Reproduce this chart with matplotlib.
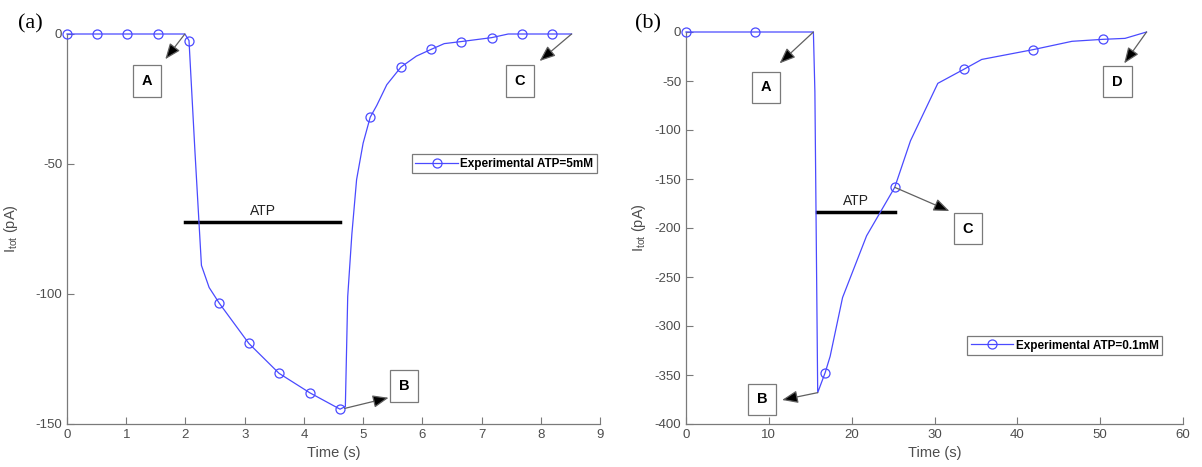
import matplotlib
matplotlib.use('Agg')
import matplotlib.pyplot as plt
from matplotlib.lines import Line2D
import numpy as np

# panel (a): ATP = 5 mM
t_a = [0, 0.51, 1.02, 1.54, 1.99, 2.06, 2.16, 2.27, 2.40, 2.57, 3.07, 3.58, 4.10, 4.61,
       4.70, 4.74, 4.81, 4.89, 5.00, 5.12, 5.23, 5.40, 5.64, 5.90, 6.15, 6.37, 6.66,
       7.17, 7.45, 7.68, 8.19, 8.52]
i_a = [0, 0, 0, 0, 0, -2.5, -45, -89, -97.5, -103.5, -119, -130.5, -138, -144.3,
       -143.3, -101, -77, -56, -42, -32, -27.5, -19.5, -12.7, -8.5, -5.9, -3.7, -2.9,
       -1.4, 0, 0, 0, 0]
marker_t_a = [0, 0.51, 1.02, 1.54, 2.06, 2.57, 3.07, 3.58, 4.10, 4.61, 5.12, 5.64,
              6.15, 6.66, 7.17, 7.68, 8.19]

# panel (b): ATP = 0.1 mM
t_b = [0, 8.39, 15.38, 15.56, 15.9, 16.8, 17.4, 18.9, 21.8, 25.2, 27.1, 30.4, 33.6,
       35.7, 41.9, 46.6, 50.3, 53.0, 55.6]
i_b = [0, 0, 0, -61, -368, -347.6, -331, -271, -208, -158.5, -111, -52.4, -37.8,
       -28, -18, -9.5, -7.5, -6.5, 0]
marker_t_b = [0, 8.39, 16.8, 25.2, 33.6, 41.9, 50.3]

# annotations: label, box position, arrow start, arrow tip
notes_a = [('A', (1.35, -18), (1.99, 0), (1.66, -9.7)),
           ('B', (5.69, -135.4), (4.69, -144), (5.43, -139.9)),
           ('C', (7.65, -18), (8.52, 0), (7.98, -10.4))]
notes_b = [('A', (9.7, -56.4), (15.38, 0), (11.3, -32)),
           ('B', (9.2, -374.8), (15.9, -368), (11.6, -375.5)),
           ('C', (34.0, -200.7), (25.2, -158.5), (31.8, -182.7)),
           ('D', (52.1, -50.7), (55.6, 0), (52.9, -32))]
atp_a = (2.0, 4.61, -72.4)
atp_b = (15.8, 25.2, -184)

plt.rcParams.update({
    'font.family': 'Liberation Sans',
    'mathtext.default': 'regular',
    'axes.unicode_minus': False,
    'font.size': 9,
})

BLUE = '#4a4aff'
AX_GRAY = '#7a7a7a'
TXT_GRAY = '#4d4d4d'

fig = plt.figure(figsize=(12.02, 4.67), dpi=100)
ax_a = fig.add_axes([67 / 1202, 43 / 467, 533 / 1202, 390 / 467])
ax_b = fig.add_axes([686 / 1202, 43 / 467, 497 / 1202, 392 / 467])


def draw(ax, t, cur, marker_t, notes, atp, legend_label, xlim, ylim, xticks, yticks,
         legend_anchor, ylab_x):
    ax.plot(t, cur, color=BLUE, lw=0.9, clip_on=False, zorder=3)
    idx = [t.index(v) for v in marker_t]
    ax.plot(np.array(t)[idx], np.array(cur)[idx], ls='none', marker='o', ms=6.5,
            mfc='none', mec=BLUE, mew=0.9, clip_on=False, zorder=4)

    ax.plot([atp[0], atp[1]], [atp[2], atp[2]], color='black', lw=2.5, zorder=2)
    ax.text((atp[0] + atp[1]) / 2, atp[2] + 1.5 * (ylim[1] - ylim[0]) / 150, 'ATP',
            ha='center', va='bottom', fontsize=10, color='#222222')

    for lab, box, start, tip in notes:
        ax.annotate('', xy=tip, xytext=start,
                    arrowprops=dict(arrowstyle='-|>,head_length=0.8,head_width=0.32',
                                    ec='#606060', fc='black', lw=0.9,
                                    mutation_scale=12, shrinkA=0, shrinkB=0), zorder=5)
        ax.text(box[0], box[1], lab, ha='center', va='center', fontsize=10.5,
                fontweight='bold', color='black',
                bbox=dict(boxstyle='square,pad=0.6', fc='white', ec=AX_GRAY, lw=0.9))

    ax.set_xlim(*xlim)
    ax.set_ylim(*ylim)
    ax.set_xticks(xticks)
    ax.set_yticks(yticks)
    for s in ['top', 'right']:
        ax.spines[s].set_visible(False)
    for s in ['left', 'bottom']:
        ax.spines[s].set_color(AX_GRAY)
        ax.spines[s].set_linewidth(0.9)
    ax.tick_params(direction='in', length=5, width=0.8, color=AX_GRAY,
                   labelcolor=TXT_GRAY, labelsize=9.5)
    ax.set_xlabel('Time (s)', fontsize=10.5, color=TXT_GRAY, labelpad=4)
    ax.set_ylabel('I$_{tot}$ (pA)', fontsize=10.5, color=TXT_GRAY)
    ax.yaxis.set_label_coords(ylab_x, 0.5)

    handle = Line2D([], [], color=BLUE, lw=0.9, marker='o', ms=6.5, mfc='none',
                    mec=BLUE, mew=0.9)
    leg = ax.legend([handle], [legend_label], loc='upper right',
                    bbox_to_anchor=legend_anchor, frameon=True, fancybox=False,
                    prop={'weight': 'bold', 'size': 8.5}, handlelength=3.6,
                    handletextpad=0.2, borderpad=0.3, borderaxespad=0,
                    framealpha=1, numpoints=1)
    leg.get_frame().set_edgecolor(AX_GRAY)
    leg.get_frame().set_linewidth(0.9)


draw(ax_a, t_a, i_a, marker_t_a, notes_a, atp_a, 'Experimental ATP=5mM',
     (0, 9), (-150, 0), range(0, 10), [-150, -100, -50, 0], (0.994, 0.692), -0.088)
draw(ax_b, t_b, i_b, marker_t_b, notes_b, atp_b, 'Experimental ATP=0.1mM',
     (0, 60), (-400, 0), range(0, 61, 10), range(-400, 1, 50), (0.958, 0.2245), -0.076)

fig.text(18 / 1202, 0.940, '(a)', family='Liberation Serif', fontsize=16, va='baseline')
fig.text(635 / 1202, 0.938, '(b)', family='Liberation Serif', fontsize=16, va='baseline')

fig.savefig('out.png', dpi=100)
